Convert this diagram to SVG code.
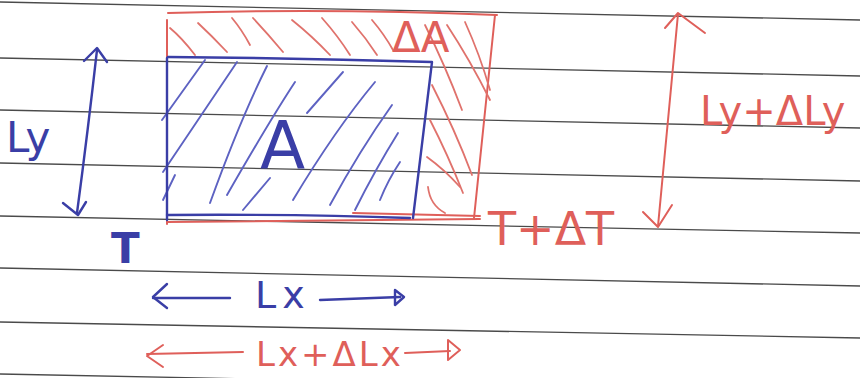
<svg xmlns="http://www.w3.org/2000/svg" width="860" height="378" viewBox="0 0 860 378">
<style>
.rule{stroke:#4a4a4a;stroke-width:1.3;fill:none}
.b{stroke:#3a3ea6;stroke-width:2.4;fill:none;stroke-linecap:round;stroke-linejoin:round}
.bh{stroke:#5d62c2;stroke-width:1.9;fill:none;stroke-linecap:round}
.r{stroke:#df5f5a;stroke-width:2;fill:none;stroke-linecap:round;stroke-linejoin:round}
.rh{stroke:#e0726c;stroke-width:1.8;fill:none;stroke-linecap:round}
.tb{fill:#3a3ea6;font-family:"DejaVu Sans","Liberation Sans",sans-serif}
.tr{fill:#df5f5a;font-family:"DejaVu Sans","Liberation Sans",sans-serif}
</style>
<rect width="860" height="378" fill="#ffffff"/>
<g id="paper">
<line class="rule" x1="0" y1="2" x2="860" y2="20"/>
<line class="rule" x1="0" y1="58" x2="860" y2="76"/>
<line class="rule" x1="0" y1="110" x2="860" y2="128"/>
<line class="rule" x1="0" y1="163" x2="860" y2="181"/>
<line class="rule" x1="0" y1="216" x2="860" y2="233"/>
<line class="rule" x1="0" y1="268" x2="860" y2="286"/>
<line class="rule" x1="0" y1="322" x2="860" y2="338"/>
<line class="rule" x1="0" y1="374" x2="860" y2="391"/>
</g>
<g id="delta-area">
<path class="r" d="M168,13 Q330,8 497,15"/>
<path class="r" d="M167,20 L167,224"/>
<path class="r" d="M495,15 L474,218"/>
<path class="r" d="M167,222 L480,219"/>
<path class="r" d="M353,213 L480,216"/>
<path class="rh" d="M170,28 Q182,38 195,55"/>
<path class="rh" d="M198,23 Q212,36 227,52"/>
<path class="rh" d="M232,18 Q242,30 250,45"/>
<path class="rh" d="M253,18 Q268,34 283,52"/>
<path class="rh" d="M292,20 Q312,36 330,55"/>
<path class="rh" d="M322,18 Q338,36 350,55"/>
<path class="rh" d="M352,22 Q366,38 377,55"/>
<path class="rh" d="M372,20 Q384,34 393,50"/>
<path class="rh" d="M425,25 Q445,65 462,110"/>
<path class="rh" d="M447,25 Q470,60 490,100"/>
<path class="rh" d="M465,22 Q480,55 490,90"/>
<path class="rh" d="M432,85 Q455,130 472,175"/>
<path class="rh" d="M430,120 Q448,155 463,193"/>
<path class="rh" d="M427,157 Q445,170 460,187"/>
<path class="rh" d="M428,187 Q430,205 445,213"/>
<text class="tr" x="392" y="52" font-size="42">ΔA</text>
</g>
<g id="area">
<path class="bh" d="M205,60 L162,120"/>
<path class="bh" d="M237,62 L163,172"/>
<path class="bh" d="M267,66 Q240,120 210,203"/>
<path class="bh" d="M295,82 Q270,120 227,195"/>
<path class="bh" d="M343,72 L307,113"/>
<path class="bh" d="M375,82 Q335,130 293,200"/>
<path class="bh" d="M392,105 Q360,150 330,205"/>
<path class="bh" d="M398,133 Q375,170 355,210"/>
<path class="bh" d="M400,162 Q388,180 380,200"/>
<path class="bh" d="M270,178 L243,210"/>
<path class="bh" d="M175,175 L163,200"/>
<path class="b" d="M168,57 Q300,58 432,62 L413,218"/>
<path class="b" d="M167,58 L167,220"/>
<path class="b" d="M167,215 Q300,214 410,218"/>
<text class="tb" x="260" y="168" font-size="66">A</text>
</g>
<g id="labels">
<text class="tb" x="6" y="152" font-size="42">Ly</text>
<text class="tb" x="111" y="263" font-size="42" font-weight="bold">T</text>
<text class="tr" x="488" y="245" font-size="46">T+ΔT</text>
<text class="tr" x="700" y="125" font-size="40">Ly+ΔLy</text>
<text class="tb" x="255" y="308" font-size="38" letter-spacing="6">Lx</text>
<text class="tr" x="256" y="366" font-size="34" letter-spacing="3">Lx+ΔLx</text>
</g>
<g id="connectors">
<path class="b" d="M97,50 Q88,130 77,213"/>
<path class="b" d="M84,61 L97,48 L107,62"/>
<path class="b" d="M63,203 L78,215 L86,202"/>
<path class="b" d="M153,298 L230,298"/>
<path class="b" d="M167,284 L153,297 L167,308"/>
<path class="b" d="M320,300 L400,297"/>
<path class="b" d="M395,290 L404,297 L395,305 Z"/>
<path class="r" d="M147,354 L243,352"/>
<path class="r" d="M163,345 L147,356 L163,367"/>
<path class="r" d="M405,353 L450,351"/>
<path class="r" d="M448,340 L460,350 L448,360 Z"/>
<path class="r" d="M678,14 Q668,120 658,226"/>
<path class="r" d="M665,28 L678,13 L705,33"/>
<path class="r" d="M643,212 L658,227 L672,205"/>
</g>
</svg>
